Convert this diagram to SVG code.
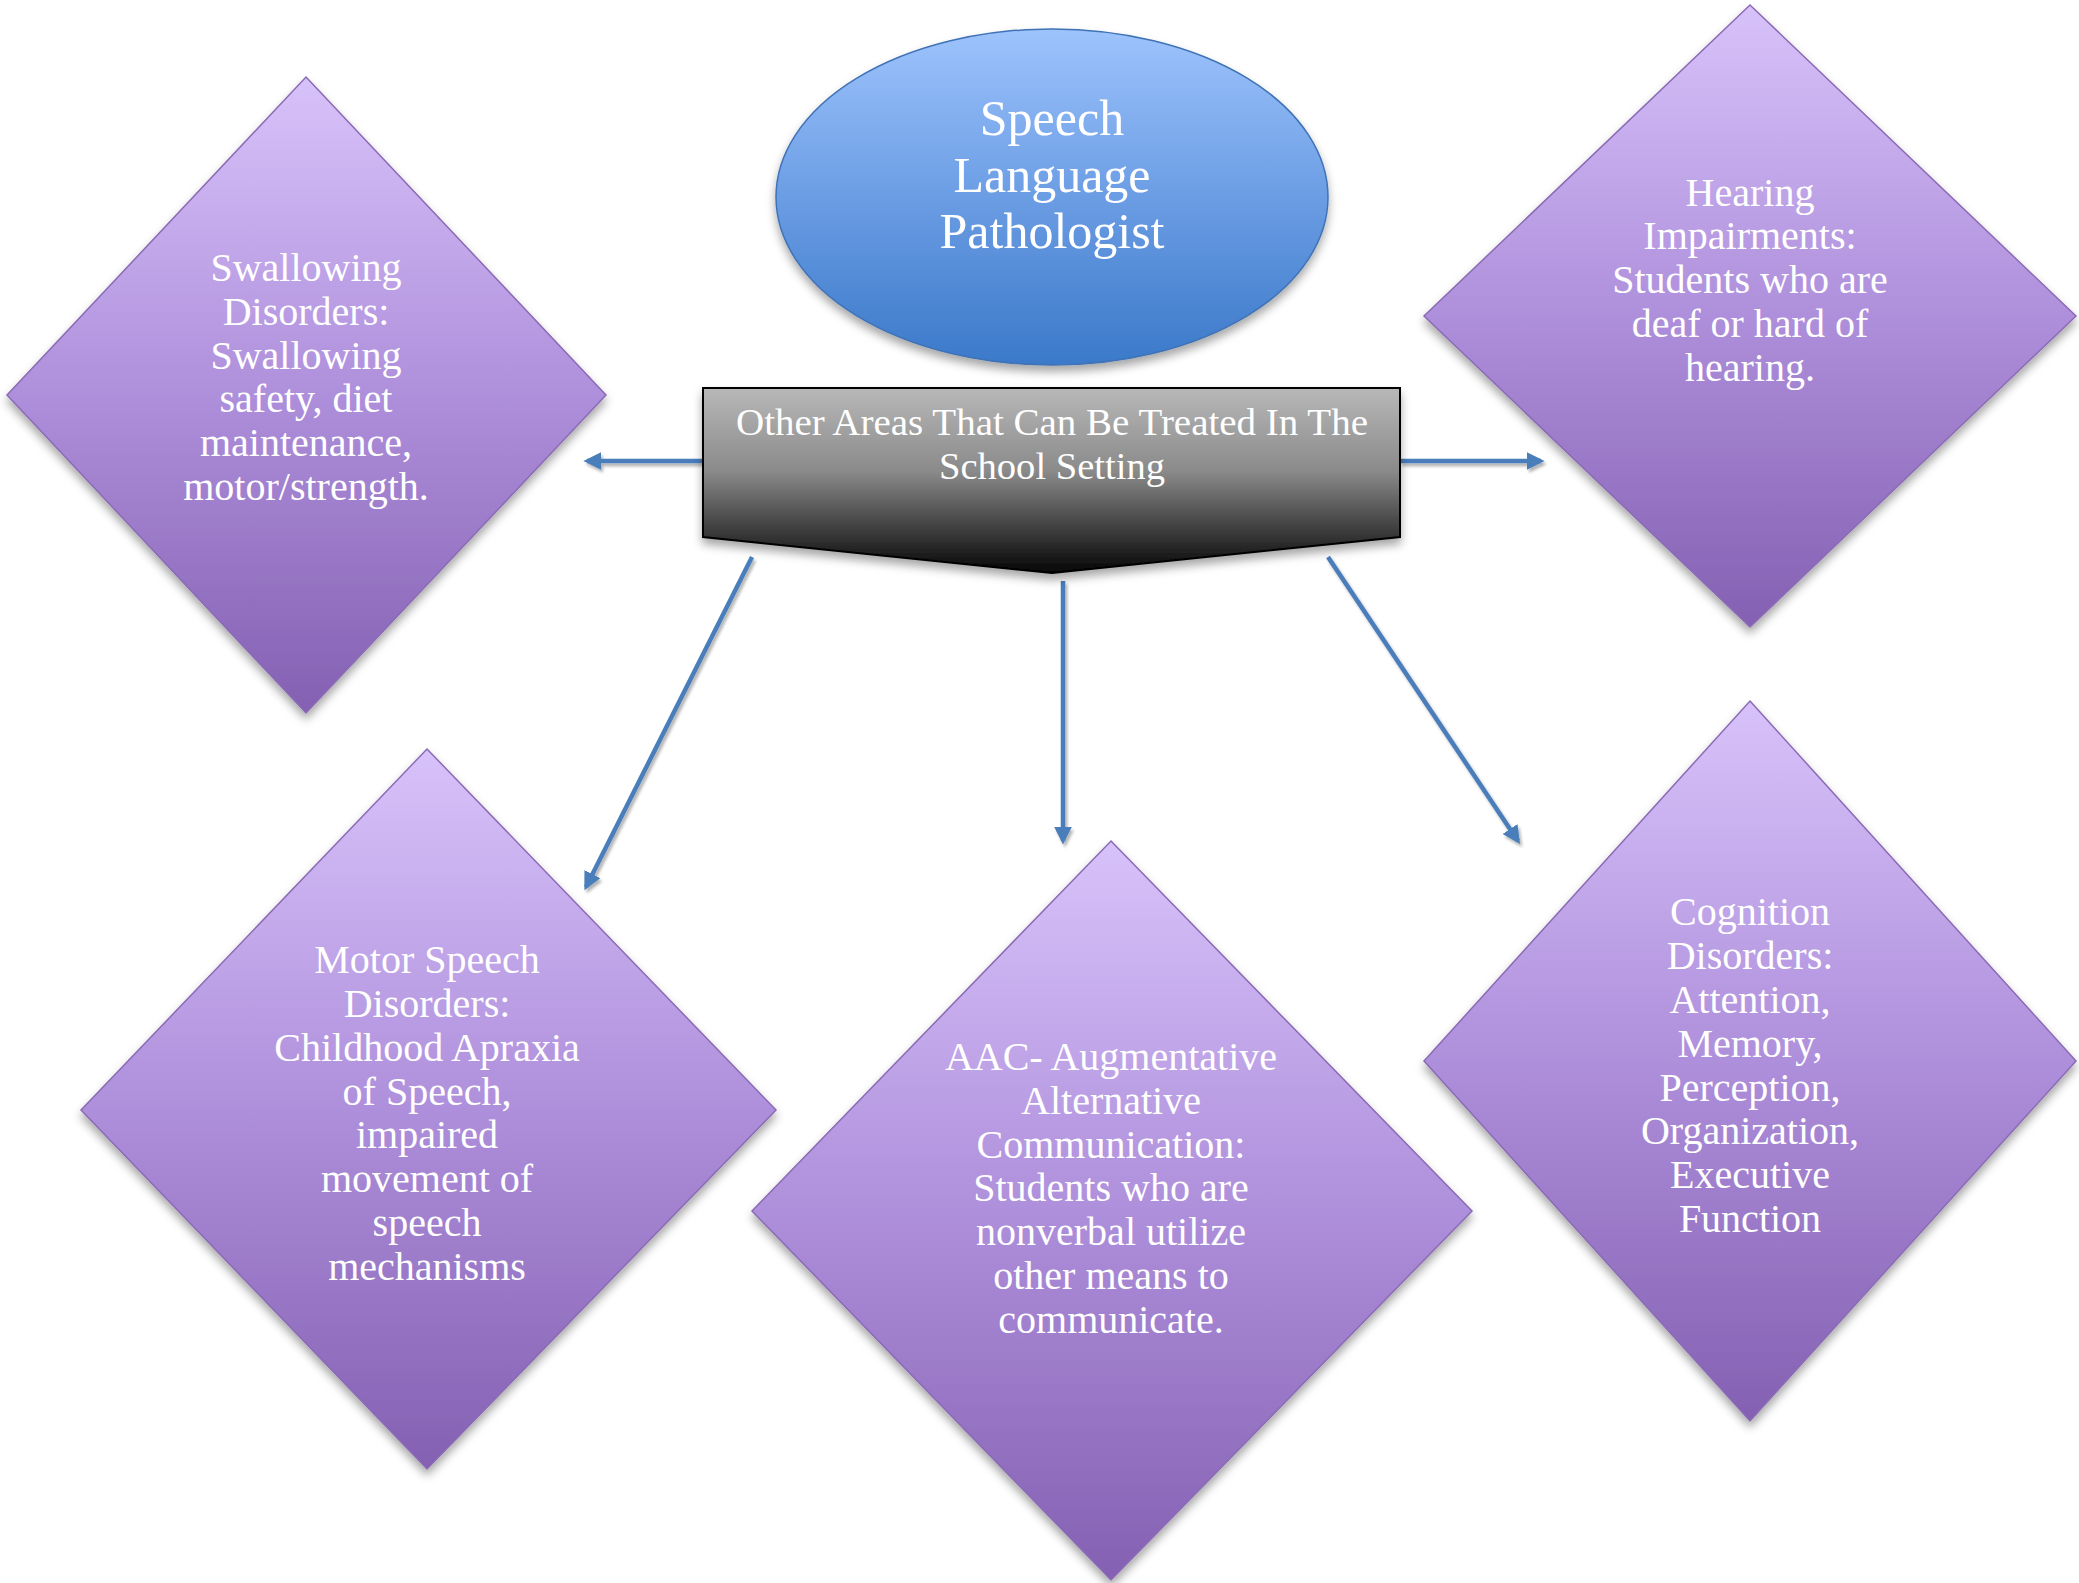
<svg xmlns="http://www.w3.org/2000/svg" width="2079" height="1583" viewBox="0 0 2079 1583">
<defs>
<linearGradient id="gPurple" x1="0" y1="0" x2="0" y2="1">
<stop offset="0" stop-color="#d8c2fa"/>
<stop offset="0.5" stop-color="#ae8fdb"/>
<stop offset="1" stop-color="#8460b2"/>
</linearGradient>
<linearGradient id="gBlue" x1="0" y1="0" x2="0" y2="1">
<stop offset="0" stop-color="#9dc3fc"/>
<stop offset="0.5" stop-color="#6b9de4"/>
<stop offset="1" stop-color="#3b79c9"/>
</linearGradient>
<linearGradient id="gGray" x1="0" y1="0" x2="0" y2="1">
<stop offset="0" stop-color="#b8b8b8"/>
<stop offset="0.45" stop-color="#8a8a8a"/>
<stop offset="1" stop-color="#050505"/>
</linearGradient>
<filter id="shadow" x="-10%" y="-10%" width="120%" height="125%">
<feDropShadow dx="0" dy="6" stdDeviation="5" flood-color="#000" flood-opacity="0.35"/>
</filter>
<filter id="lshadow" filterUnits="userSpaceOnUse" x="0" y="0" width="2079" height="1583">
<feDropShadow dx="2" dy="3" stdDeviation="1.5" flood-color="#000" flood-opacity="0.3"/>
</filter>
<marker id="arrow" viewBox="0 0 10 10" refX="8" refY="5" markerWidth="4" markerHeight="4" orient="auto" markerUnits="strokeWidth">
<path d="M0,0 L10,5 L0,10 Z" fill="#4a7ebb"/>
</marker>
<style>
.diamond{fill:url(#gPurple);stroke:#8b6bb5;stroke-width:1.5;filter:url(#shadow)}
.dt{font-family:"Liberation Serif","DejaVu Serif",serif;font-size:40px;fill:#ffffff;text-anchor:middle}
.et{font-family:"Liberation Serif","DejaVu Serif",serif;font-size:50px;fill:#ffffff;text-anchor:middle}
.bt{font-family:"Liberation Serif","DejaVu Serif",serif;font-size:37px;fill:#ffffff;text-anchor:middle}
.conn{stroke:#4a7ebb;stroke-width:4.5;fill:none;marker-end:url(#arrow)}
</style>
</defs>
<rect width="2079" height="1583" fill="#ffffff"/>

<g id="connectors" filter="url(#lshadow)">
<line class="conn" x1="703" y1="461" x2="587" y2="461"/>
<line class="conn" x1="1400" y1="461" x2="1541" y2="461"/>
<line class="conn" x1="752" y1="557" x2="586" y2="887"/>
<line class="conn" x1="1063" y1="581" x2="1063" y2="841"/>
<line class="conn" x1="1328" y1="557" x2="1518" y2="841"/>
</g>

<g id="slp">
<ellipse cx="1052" cy="197" rx="276" ry="168" fill="url(#gBlue)" stroke="#3f72b5" stroke-width="1.5" filter="url(#shadow)"/>
<text class="et" x="1052" y="135">Speech</text>
<text class="et" x="1052" y="192">Language</text>
<text class="et" x="1052" y="248">Pathologist</text>
</g>

<g id="other-areas">
<path d="M703,388 L1400,388 L1400,537 L1052,573 L703,537 Z" fill="url(#gGray)" stroke="#000" stroke-width="2" filter="url(#shadow)"/>
<text class="bt" x="1052" y="435" textLength="632" lengthAdjust="spacingAndGlyphs">Other Areas That Can Be Treated In The</text>
<text class="bt" x="1052" y="479" textLength="226" lengthAdjust="spacingAndGlyphs">School Setting</text>
</g>

<g id="swallowing">
<path class="diamond" d="M306,77 L606,395 L306,713 L7,395 Z"/>
<text class="dt" x="306" y="281">Swallowing</text>
<text class="dt" x="306" y="325">Disorders:</text>
<text class="dt" x="306" y="369">Swallowing</text>
<text class="dt" x="306" y="412">safety, diet</text>
<text class="dt" x="306" y="456">maintenance,</text>
<text class="dt" x="306" y="500">motor/strength.</text>
</g>

<g id="hearing">
<path class="diamond" d="M1750,5 L2076,316 L1750,627 L1424,316 Z"/>
<text class="dt" x="1750" y="206">Hearing</text>
<text class="dt" x="1750" y="249">Impairments:</text>
<text class="dt" x="1750" y="293">Students who are</text>
<text class="dt" x="1750" y="337">deaf or hard of</text>
<text class="dt" x="1750" y="381">hearing.</text>
</g>

<g id="motor-speech">
<path class="diamond" d="M427,749 L776,1110 L427,1469 L81,1110 Z"/>
<text class="dt" x="427" y="973">Motor Speech</text>
<text class="dt" x="427" y="1017">Disorders:</text>
<text class="dt" x="427" y="1061">Childhood Apraxia</text>
<text class="dt" x="427" y="1105">of Speech,</text>
<text class="dt" x="427" y="1148">impaired</text>
<text class="dt" x="427" y="1192">movement of</text>
<text class="dt" x="427" y="1236">speech</text>
<text class="dt" x="427" y="1280">mechanisms</text>
</g>

<g id="aac">
<path class="diamond" d="M1111,841 L1472,1211 L1111,1580 L752,1211 Z"/>
<text class="dt" x="1111" y="1070">AAC- Augmentative</text>
<text class="dt" x="1111" y="1114">Alternative</text>
<text class="dt" x="1111" y="1158">Communication:</text>
<text class="dt" x="1111" y="1201">Students who are</text>
<text class="dt" x="1111" y="1245">nonverbal utilize</text>
<text class="dt" x="1111" y="1289">other means to</text>
<text class="dt" x="1111" y="1333">communicate.</text>
</g>

<g id="cognition">
<path class="diamond" d="M1750,701 L2076,1061 L1750,1421 L1424,1061 Z"/>
<text class="dt" x="1750" y="925">Cognition</text>
<text class="dt" x="1750" y="969">Disorders:</text>
<text class="dt" x="1750" y="1013">Attention,</text>
<text class="dt" x="1750" y="1057">Memory,</text>
<text class="dt" x="1750" y="1101">Perception,</text>
<text class="dt" x="1750" y="1144">Organization,</text>
<text class="dt" x="1750" y="1188">Executive</text>
<text class="dt" x="1750" y="1232">Function</text>
</g>
</svg>
